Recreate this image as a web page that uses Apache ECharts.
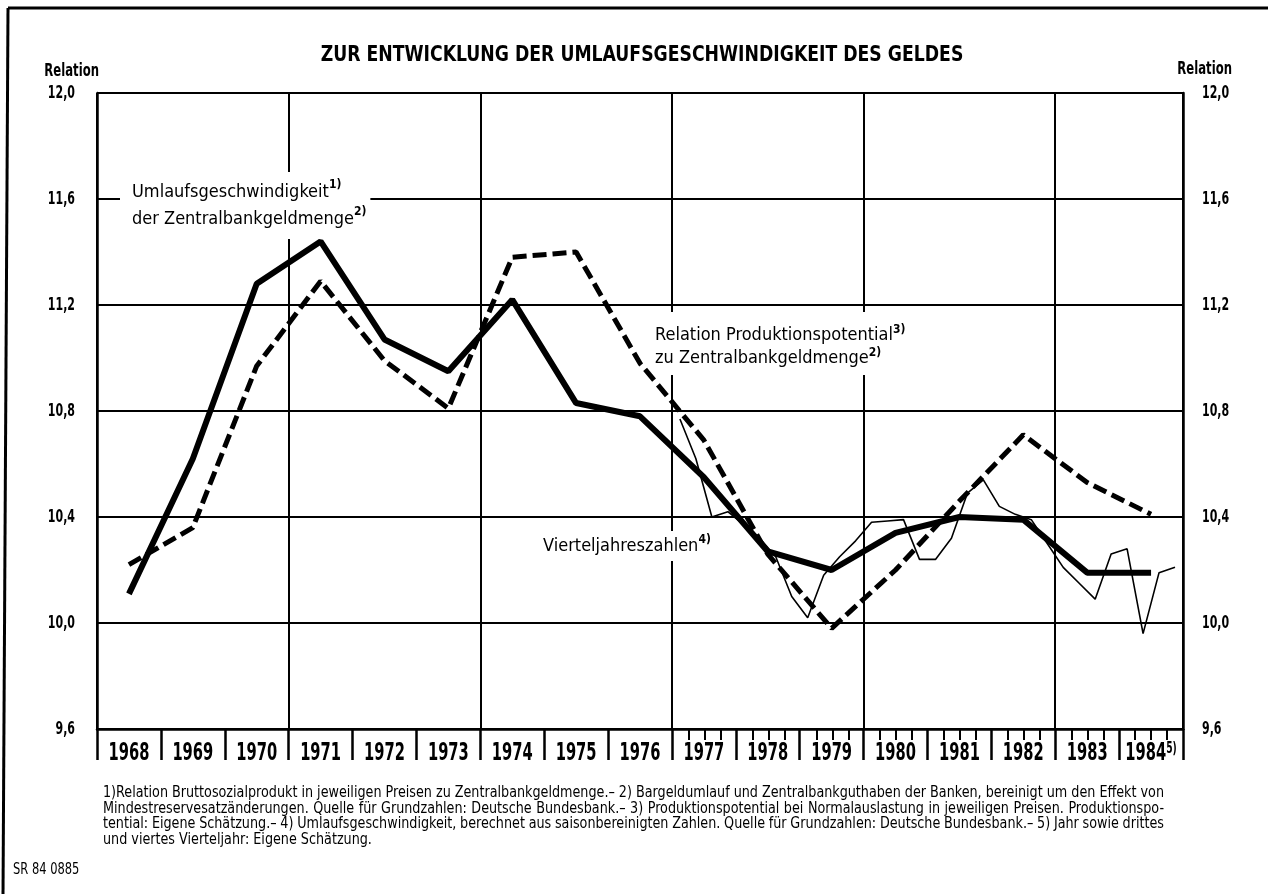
<!DOCTYPE html>
<html>
<head>
<meta charset="utf-8">
<script src="https://cdn.jsdelivr.net/npm/echarts@6/dist/echarts.min.js"></script>
<style>
  html, body { margin: 0; padding: 0; background: #fff; }
  #chart { width: 1268px; height: 894px; }
</style>
</head>
<body>
<div id="chart"></div>
<script>
var FONT = "'DejaVu Sans Condensed', 'Liberation Sans Narrow', sans-serif";

// Jahreswerte (Jahresmitte)
var years = ['1968', '1969', '1970', '1971', '1972', '1973', '1974', '1975', '1976',
  '1977', '1978', '1979', '1980', '1981', '1982', '1983', '1984'];
var umlauf = [10.11, 10.62, 11.28, 11.44, 11.07, 10.95, 11.22, 10.83, 10.78,
  10.55, 10.27, 10.20, 10.34, 10.40, 10.39, 10.19, 10.19];
var potential = [10.22, 10.36, 10.97, 11.29, 10.99, 10.81, 11.38, 11.40, 10.98,
  10.69, 10.26, 9.98, 10.20, 10.46, 10.71, 10.53, 10.41];

// Vierteljahreszahlen ab 1977
var quarterStart = 1977;
var quarterly = [
  10.77, 10.62, 10.40, 10.42,  // 1977
  10.37, 10.32, 10.25, 10.10,  // 1978
  10.02, 10.18, 10.25, 10.31,  // 1979
  10.38, 10.385, 10.39, 10.24, // 1980
  10.24, 10.32, 10.49, 10.54,  // 1981
  10.44, 10.41, 10.39, 10.30,  // 1982
  10.21, 10.15, 10.09, 10.26,  // 1983
  10.28, 9.96, 10.19, 10.21    // 1984
];

var yTicks = [9.6, 10.0, 10.4, 10.8, 11.2, 11.6, 12.0];

var notes = [
  '1)Relation Bruttosozialprodukt in jeweiligen Preisen zu Zentralbankgeldmenge.– 2) Bargeldumlauf und Zentralbankguthaben der Banken, bereinigt um den Effekt von',
  'Mindestreservesatzänderungen. Quelle für Grundzahlen: Deutsche Bundesbank.– 3) Produktionspotential bei Normalauslastung in jeweiligen Preisen. Produktionspo-',
  'tential: Eigene Schätzung.– 4) Umlaufsgeschwindigkeit, berechnet aus saisonbereinigten Zahlen. Quelle für Grundzahlen: Deutsche Bundesbank.– 5) Jahr sowie drittes',
  'und viertes Vierteljahr: Eigene Schätzung.'
];

var annualPoints = function (arr) {
  return arr.map(function (v, i) { return [Number(years[i]) + 0.5, v]; });
};
var quarterPoints = quarterly.map(function (v, i) {
  return [quarterStart + Math.floor(i / 4) + ((i % 4) + 0.5) / 4, v];
});

var fmt = function (v) { return v.toFixed(1).replace('.', ','); };

// schmale Schrift: Text horizontal stauchen
function txt(x, y, text, font, sx, align) {
  return {
    type: 'text', x: x, y: y, scaleX: sx, z: 20,
    style: { text: text, font: font, fill: '#000', align: align || 'left', verticalAlign: 'middle' }
  };
}

var chart = echarts.init(document.getElementById('chart'));

var option = {
  animation: false,
  backgroundColor: '#fff',
  grid: [
    { left: 97, top: 93, width: 1086, height: 636 },
    { left: 673, top: 93, width: 510, height: 636 }
  ],
  xAxis: [
    {
      type: 'value', gridIndex: 0, min: 1968, max: 1985, interval: 3,
      axisLine: { show: false }, axisTick: { show: false }, axisLabel: { show: false },
      splitLine: { show: true, lineStyle: { color: '#000', width: 2 } }
    },
    {
      type: 'category', gridIndex: 0, position: 'bottom', data: years, boundaryGap: true,
      axisLine: { show: true, lineStyle: { color: '#000', width: 2.5 } },
      axisTick: { show: true, interval: 0, length: 31, lineStyle: { color: '#000', width: 2.5 } },
      axisLabel: { show: false },
      splitLine: { show: false }
    },
    {
      type: 'value', gridIndex: 1, min: 1977, max: 1985, interval: 1,
      axisLine: { show: false }, axisTick: { show: false }, axisLabel: { show: false },
      splitLine: { show: false },
      minorTick: { show: true, splitNumber: 4, length: 11, lineStyle: { color: '#000', width: 2 } }
    }
  ],
  yAxis: [
    {
      type: 'value', gridIndex: 0, position: 'left', min: 9.6, max: 12, interval: 0.4,
      axisLine: { show: true, lineStyle: { color: '#000', width: 2.5 } },
      axisTick: { show: false }, axisLabel: { show: false },
      splitLine: { show: true, lineStyle: { color: '#000', width: 2 } }
    },
    {
      type: 'value', gridIndex: 0, position: 'right', min: 9.6, max: 12, interval: 0.4,
      axisLine: { show: true, lineStyle: { color: '#000', width: 2.5 } },
      axisTick: { show: false }, axisLabel: { show: false },
      splitLine: { show: false }
    },
    { type: 'value', gridIndex: 1, min: 9.6, max: 12, show: false }
  ],
  series: [
    {
      name: 'Vierteljahreszahlen', type: 'line', xAxisIndex: 0, yAxisIndex: 0,
      data: quarterPoints, symbol: 'none', z: 3,
      lineStyle: { color: '#000', width: 1.6 }
    },
    {
      name: 'Relation Produktionspotential zu Zentralbankgeldmenge', type: 'line', xAxisIndex: 0, yAxisIndex: 0,
      data: annualPoints(potential), symbol: 'none', z: 4,
      lineStyle: { color: '#000', width: 5, type: [14, 6] }
    },
    {
      name: 'Umlaufsgeschwindigkeit der Zentralbankgeldmenge', type: 'line', xAxisIndex: 0, yAxisIndex: 0,
      data: annualPoints(umlauf), symbol: 'none', z: 5,
      lineStyle: { color: '#000', width: 6 }
    }
  ]
};

chart.setOption(option);

// Beschriftungen an den Achsen ueber die Skalen der Achsen platzieren
var xLeft = chart.convertToPixel({ xAxisIndex: 0 }, 1968);
var xRight = chart.convertToPixel({ xAxisIndex: 0 }, 1985);
var yBottom = chart.convertToPixel({ yAxisIndex: 0 }, 9.6);
var yTop = chart.convertToPixel({ yAxisIndex: 0 }, 12);

// Kurvenbeschriftungen: weisser Grund ueber dem Gitter, aber unter den Linien (z 1)
var graphics = [
  { type: 'line', shape: { x1: 8, y1: 8, x2: 1268, y2: 8 }, style: { stroke: '#000', lineWidth: 3 } },
  { type: 'line', shape: { x1: 8, y1: 8, x2: 3, y2: 894 }, style: { stroke: '#000', lineWidth: 3 } },
  txt(642, 55, 'ZUR ENTWICKLUNG DER UMLAUFSGESCHWINDIGKEIT DES GELDES', 'bold 22px ' + FONT, 0.872, 'center'),
  txt(xLeft + 2, yTop - 22, 'Relation', 'bold 18px ' + FONT, 0.72, 'right'),
  txt(xRight + 49, yTop - 24, 'Relation', 'bold 18px ' + FONT, 0.72, 'right'),
  {
    type: 'text', x: 120, y: 172, z: 1,
    style: {
      text: '{a|Umlaufsgeschwindigkeit}{s|1)}\n{a|der Zentralbankgeldmenge}{s|2)}',
      backgroundColor: '#fff', padding: [7, 4, 6, 12],
      rich: {
        a: { fontFamily: FONT, fontSize: 18, lineHeight: 27, fill: '#000' },
        s: { fontFamily: FONT, fontSize: 12, fontWeight: 'bold', verticalAlign: 'top', fill: '#000' }
      }
    }
  },
  {
    type: 'text', x: 645, y: 312, z: 1,
    style: {
      text: '{a|Relation Produktionspotential}{s|3)}\n{a|zu Zentralbankgeldmenge}{s|2)}',
      backgroundColor: '#fff', padding: [12, 8, 5, 10],
      rich: {
        a: { fontFamily: FONT, fontSize: 18, lineHeight: 23, fill: '#000' },
        s: { fontFamily: FONT, fontSize: 12, fontWeight: 'bold', verticalAlign: 'top', fill: '#000' }
      }
    }
  },
  {
    type: 'text', x: 538, y: 531, z: 1,
    style: {
      text: '{a|Vierteljahreszahlen}{s|4)}',
      backgroundColor: '#fff', padding: [3, 4, 3, 5],
      rich: {
        a: { fontFamily: FONT, fontSize: 18, lineHeight: 24, fill: '#000' },
        s: { fontFamily: FONT, fontSize: 12, fontWeight: 'bold', verticalAlign: 'top', fill: '#000' }
      }
    }
  },
  txt(13, 870, 'SR 84 0885', '15px ' + FONT, 0.85)
];

// Achsenbeschriftung links und rechts
yTicks.forEach(function (v) {
  var y = chart.convertToPixel({ yAxisIndex: 0 }, v);
  graphics.push(txt(xLeft - 22, y, fmt(v), 'bold 18px ' + FONT, 0.68, 'right'));
  graphics.push(txt(xRight + 19, y, fmt(v), 'bold 18px ' + FONT, 0.68, 'left'));
});

// Jahre in der Mitte der Jahresfelder
years.forEach(function (yr, i) {
  var x = chart.convertToPixel({ xAxisIndex: 0 }, Number(yr) + 0.5);
  graphics.push({
    type: 'text', x: x, y: yBottom + 25, scaleX: 0.68, z: 20,
    style: {
      text: i === years.length - 1 ? '{y|' + yr + '}{s|5)}' : '{y|' + yr + '}',
      align: 'center', verticalAlign: 'middle',
      rich: {
        y: { fontFamily: FONT, fontSize: 24, fontWeight: 'bold', fill: '#000' },
        s: { fontFamily: FONT, fontSize: 15, fontWeight: 'bold', fill: '#000', verticalAlign: 'top' }
      }
    }
  });
});

// Fussnoten im Blocksatz
var NOTE_FONT = '16px ' + FONT;
var NOTE_LEFT = 103, NOTE_RIGHT = 1164;
var measure = document.createElement('canvas').getContext('2d');
measure.font = NOTE_FONT;
var noteScale = (NOTE_RIGHT - NOTE_LEFT) / measure.measureText(notes[0]).width;
notes.forEach(function (line, k) {
  var words = line.split(' ');
  var widths = words.map(function (w) { return measure.measureText(w).width * noteScale; });
  var total = widths.reduce(function (a, b) { return a + b; }, 0);
  var gap = k < notes.length - 1
    ? (NOTE_RIGHT - NOTE_LEFT - total) / (words.length - 1)
    : measure.measureText(' ').width * noteScale;
  var x = NOTE_LEFT;
  words.forEach(function (w, i) {
    graphics.push(txt(x, 793 + k * 15.6, w, NOTE_FONT, noteScale));
    x += widths[i] + gap;
  });
});

chart.setOption({ graphic: graphics });
</script>
</body>
</html>
